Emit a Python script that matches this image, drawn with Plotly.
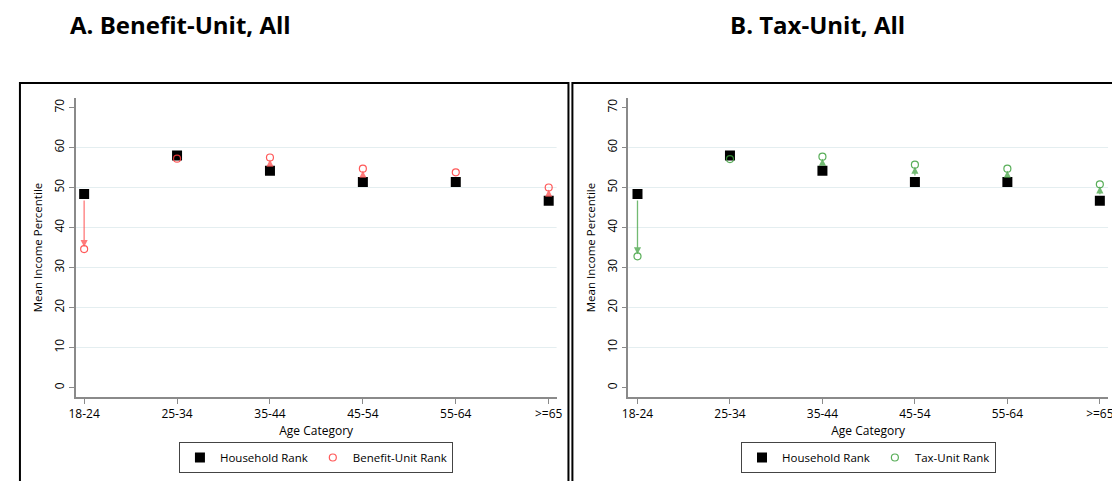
import plotly.graph_objects as go

categories = ["18-24", "25-34", "35-44", "45-54", "55-64", ">=65"]
household_rank = [48.4, 58.0, 54.2, 51.4, 51.4, 46.7]
benefit_unit_rank = [34.6, 57.2, 57.5, 54.7, 53.8, 50.0]
tax_unit_rank = [32.8, 57.1, 57.7, 55.7, 54.7, 50.8]
y_ticks = [0, 10, 20, 30, 40, 50, 60, 70]
panel_titles = ["A. Benefit-Unit, All", "B. Tax-Unit, All"]

# page body has an 8px margin; work in window pixels and convert
OFF = 8
W, H = 1120 - OFF, 481 - OFF


def px(X):
    return (X - OFF) / W


def py(Y):
    return 1 - (Y - OFF) / H


x_pos = list(range(len(categories)))

RED = "rgba(255,60,60,0.85)"
RED_LINE = "rgba(255,90,90,0.8)"
GREEN = "rgba(60,160,60,0.85)"
GREEN_LINE = "rgba(80,170,80,0.8)"
FONT = "Open Sans"

fig = go.Figure()

panels = [
    dict(xa="x", ya="y", legend="legend", unit=benefit_unit_rank, name="Benefit-Unit Rank",
         col=RED, lcol=RED_LINE),
    dict(xa="x2", ya="y2", legend="legend2", unit=tax_unit_rank, name="Tax-Unit Rank",
         col=GREEN, lcol=GREEN_LINE),
]

annotations = []
shapes = []
for p in panels:
    for t in y_ticks[1:-1]:
        shapes.append(dict(type="line", xref=p["xa"] + " domain", yref=p["ya"],
                           x0=0, x1=1, y0=t, y1=t, layer="below",
                           line=dict(color="#e4eef0", width=1)))
    fig.add_trace(go.Scatter(
        x=x_pos, y=household_rank, mode="markers", name="Household Rank",
        marker=dict(symbol="square", size=10, color="black"),
        xaxis=p["xa"], yaxis=p["ya"], legend=p["legend"]))
    fig.add_trace(go.Scatter(
        x=x_pos, y=p["unit"], mode="markers", name=p["name"],
        marker=dict(symbol="circle-open", size=7, color=p["col"], line=dict(width=1.2)),
        xaxis=p["xa"], yaxis=p["ya"], legend=p["legend"]))
    for i in x_pos:
        annotations.append(dict(
            x=i, y=p["unit"][i], ax=i, ay=household_rank[i],
            xref=p["xa"], yref=p["ya"], axref=p["xa"], ayref=p["ya"],
            showarrow=True, arrowhead=2, arrowsize=1.1, arrowwidth=1.3,
            arrowcolor=p["lcol"], standoff=2, startstandoff=5, text=""))

# panel frames
shapes.append(dict(type="rect", xref="paper", yref="paper",
                   x0=px(13), x1=px(568), y0=-0.1, y1=py(83),
                   line=dict(color="black", width=2)))
shapes.append(dict(type="rect", xref="paper", yref="paper",
                   x0=px(572), x1=1.1, y0=-0.1, y1=py(83),
                   line=dict(color="black", width=2)))

for title, cx in zip(panel_titles, [175, 820]):
    annotations.append(dict(text=title, x=px(cx), y=py(25), xref="paper", yref="paper",
                            xanchor="center", yanchor="middle", showarrow=False,
                            font=dict(family=FONT, size=24, color="black", weight="bold")))

axis_common = dict(showgrid=False, zeroline=False, showline=True, linecolor="#8a8a8a", linewidth=1.6,
                   ticks="outside", ticklen=5, tickcolor="#8a8a8a", tickwidth=1,
                   tickfont=dict(family=FONT, size=12, color="black"))

ydom = [py(396.7), py(98.3)]
xaxis_base = dict(axis_common, tickvals=x_pos, ticktext=categories,
                  title=dict(text="Age Category", standoff=1, font=dict(family=FONT, size=12, color="black")))
yaxis_base = dict(axis_common, tickvals=y_ticks, range=[-2.3, 72.3], tickangle=-90,
                  title=dict(text="Mean Income Percentile", standoff=6, font=dict(family=FONT, size=11.5, color="black")))

legend_common = dict(orientation="h", xanchor="center", yanchor="top", bgcolor="white",
                     bordercolor="#444444", borderwidth=1,
                     font=dict(family=FONT, size=11.5, color="black"), itemwidth=30,
                     tracegroupgap=0)

fig.update_layout(
    width=W, height=H, margin=dict(l=0, r=0, t=0, b=0),
    paper_bgcolor="white", plot_bgcolor="white",
    xaxis=dict(xaxis_base, domain=[px(69.5), px(556)], range=[-0.09, 5.085], anchor="y"),
    yaxis=dict(yaxis_base, domain=ydom, anchor="x"),
    xaxis2=dict(xaxis_base, domain=[px(628.6), px(1114)], range=[-0.099, 5.089], anchor="y2"),
    yaxis2=dict(yaxis_base, domain=ydom, anchor="x2"),
    legend=dict(legend_common, x=px(312.5), y=py(442)),
    legend2=dict(legend_common, x=px(871.6), y=py(442)),
    annotations=annotations, shapes=shapes, showlegend=True,
)

fig.write_html("out.html")
